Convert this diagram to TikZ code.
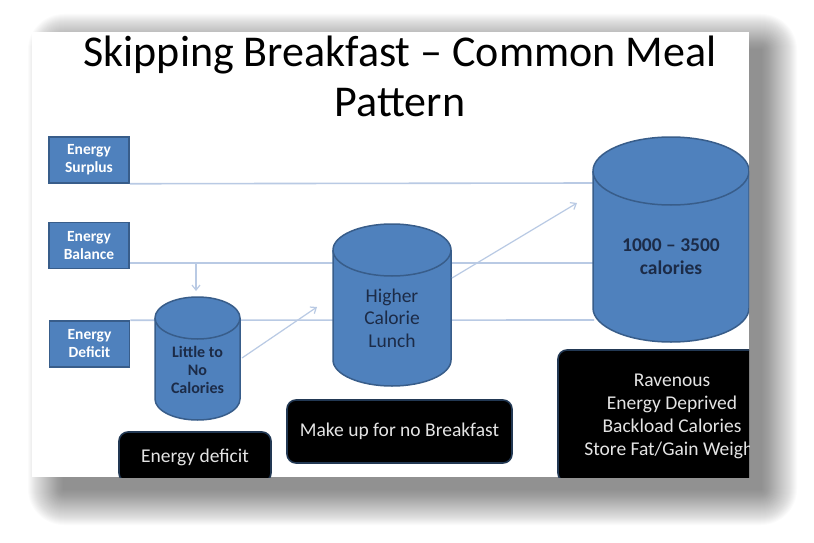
\documentclass[tikz,border=0pt]{standalone}
\usepackage{fontspec}
\setmainfont{Carlito}
\usepackage{tikz}
\usetikzlibrary{arrows.meta, positioning}
\definecolor{SlideBlue}{HTML}{4F81BD}
\definecolor{SlideEdge}{HTML}{385D8A}
\definecolor{GuideLine}{HTML}{B9CAE4}
\definecolor{DrumInk}{HTML}{1C2B47}
\definecolor{NoteText}{HTML}{E4E4E4}

% drum: centre x, top-ellipse y, bottom-ellipse y, x radius, y radius
\newcommand{\drum}[5]{%
  \filldraw[drumbody] (#1-#4,#2) -- (#1-#4,#3)
    arc[start angle=180, end angle=360, x radius=#4pt, y radius=#5pt]
    -- (#1+#4,#2)
    arc[start angle=0, end angle=180, x radius=#4pt, y radius=#5pt] -- cycle;
  \draw[drumbody, fill=none] (#1-#4,#2)
    arc[start angle=180, end angle=360, x radius=#4pt, y radius=#5pt];
}

\begin{document}
\begin{tikzpicture}[
  x=1pt, y=-1pt,
  level/.style={rectangle, fill=SlideBlue, draw=SlideEdge, line width=1.5pt,
    minimum width=80pt, minimum height=46pt, align=center, text=white,
    font=\fontsize{15.5}{18}\selectfont\bfseries, inner sep=1pt},
  guide/.style={draw=GuideLine, line width=1.6pt},
  flow/.style={guide, line width=1.2pt, -{Straight Barb[length=5pt, width=8pt]}},
  drumbody/.style={fill=SlideBlue, draw=SlideEdge, line width=1.5pt},
  drumtext/.style={align=center, text=DrumInk},
  note/.style={rectangle, rounded corners=9pt, fill=black, draw=SlideEdge!60!black,
    line width=1.6pt, text=NoteText, align=center, font=\fontsize{19.5}{23}\selectfont},
  title/.style={align=center, font=\fontsize{44}{50}\selectfont}
]
\useasboundingbox (0,0) rectangle (814,543);

% shadow and slide
\foreach \r in {1,...,36}
  \fill[black, opacity=0.017, rounded corners=\r pt] (64-\r,50-\r) rectangle (761+\r,489+\r);
\fill[white] (32,32) rectangle (749,477);

\begin{scope}
\clip (32,32) rectangle (749,477);

\node[title] (title) at (400,76) {Skipping Breakfast – Common Meal\\Pattern};

\node[level] (surplus) at (89,160) {Energy\\Surplus};
\node[level] (balance) at (89,245.5) {Energy\\Balance};
\node[level] (deficit) at (89.5,344) {Energy\\Deficit};

\coordinate (big-w1) at (594,183);
\coordinate (big-w2) at (594,263);
\coordinate (big-w3) at (594,320);
\coordinate (drop) at (196,263);
\coordinate (skip-top) at (196,291);
\coordinate (skip-e) at (242,358);
\coordinate (lunch-w) at (317,307);
\coordinate (lunch-e) at (452,278);
\coordinate (big-w) at (577,203);

\draw[guide] (surplus.south east) -- (big-w1);
\draw[guide] (balance.east |- big-w2) -- (big-w2);
\draw[guide] (deficit.north east) -- (big-w3);
\draw[flow] (drop) -- (skip-top);

\drum{197.5}{318}{399}{42.5}{21}
\drum{392}{250}{360}{59}{26}
\drum{671}{171}{308}{78}{34}

\node[drumtext, font=\fontsize{16}{18}\selectfont\bfseries] (skip) at (197.5,370)
  {Little to\\No\\Calories};
\node[drumtext, font=\fontsize{19.5}{22.5}\selectfont] (lunch) at (392,318)
  {Higher\\Calorie\\Lunch};
\node[drumtext, font=\fontsize{19.5}{23}\selectfont\bfseries] (feast) at (671,257)
  {1000 – 3500\\calories};

\draw[flow] (skip-e) -- (lunch-w);
\draw[flow] (lunch-e) -- (big-w);

\node[note, minimum width=152pt, minimum height=50pt] (lowenergy) at (195,457)
  {Energy deficit};
\node[note, minimum width=225pt, minimum height=63pt] (makeup) at (399.5,431.5)
  {Make up for no Breakfast};
\node[note, minimum width=228pt, minimum height=132pt] (ravenous) at (672,416)
  {Ravenous\\Energy Deprived\\Backload Calories\\Store Fat/Gain Weight};
\end{scope}
\end{tikzpicture}
\end{document}
